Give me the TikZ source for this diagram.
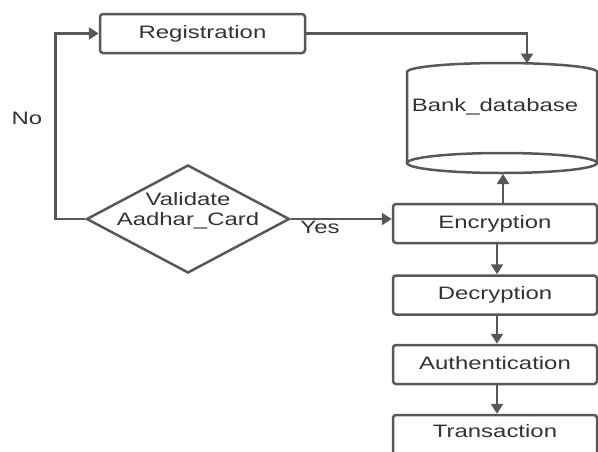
\documentclass[tikz,border=0pt]{standalone}
\usepackage{fontspec}
\setmainfont{Liberation Sans}[FakeStretch=1.33]
\usetikzlibrary{arrows.meta,shapes.geometric}
\definecolor{ln}{HTML}{585858}
\definecolor{tx}{HTML}{333333}
\begin{document}
\begin{tikzpicture}[x=1pt,y=-1pt,
  every node/.style={font=\fontsize{18}{20}\selectfont, text=tx},
  box/.style={draw=ln, line width=2.5pt, rounded corners=3pt, minimum width=204pt, minimum height=39pt, inner sep=0pt, text depth=3.6pt},
  dia/.style={diamond, draw=ln, line width=2.5pt, minimum width=203pt, minimum height=108pt, inner sep=0pt},
  conn/.style={draw=ln, line width=2.5pt, -{Triangle[length=10pt,width=12pt]}},
  shapeline/.style={draw=ln, line width=2.5pt}]
\path[use as bounding box, clip] (0,0) rectangle (598,451);
\fill[white] (0,0) rectangle (598,451);

% nodes
\node[box, minimum width=205pt] (reg) at (202.5,33.5) {Registration};
\node[dia] (val) at (188,219) {};
\node[align=center] (valtxt) at (188,211) {Validate\\Aadhar\_Card};
\node[box] (enc) at (495,223.5) {Encryption};
\node[box] (dec) at (495,295) {Decryption};
\node[box] (aut) at (495,364.5) {Authentication};
\node[box, minimum height=40pt, text depth=9pt] (tra) at (495,435) {Transaction};

% database
\draw[shapeline] (407,163) -- (407,72)
  .. controls (407,67.03) and (449.5,63) .. (502,63)
  .. controls (554.5,63) and (597,67.03) .. (597,72) -- (597,163);
\draw[shapeline] (502,163) ellipse [x radius=95pt, y radius=10pt];
\node (db) at (495,107) {Bank\_database};
\coordinate (dbtop) at (527,63.5);
\coordinate (dbbot) at (503,174);

% labels
\node[anchor=base] (no) at (27,124) {No};
\node[anchor=base] (yes) at (320,233) {Yes};

% connectors
\draw[conn] (reg.east) -| (dbtop);
\draw[conn] (val.west) -- ++(-30,0) |- (reg.west);
\draw[conn] (val.east) -- (val.east -| enc.west);
\draw[conn] (dbbot |- enc.north) -- (dbbot);
\draw[conn] ([xshift=2pt]enc.south) -- ([xshift=2pt]dec.north);
\draw[conn] ([xshift=2pt]dec.south) -- ([xshift=2pt]aut.north);
\draw[conn] ([xshift=2pt]aut.south) -- ([xshift=2pt]tra.north);
\end{tikzpicture}
\end{document}
